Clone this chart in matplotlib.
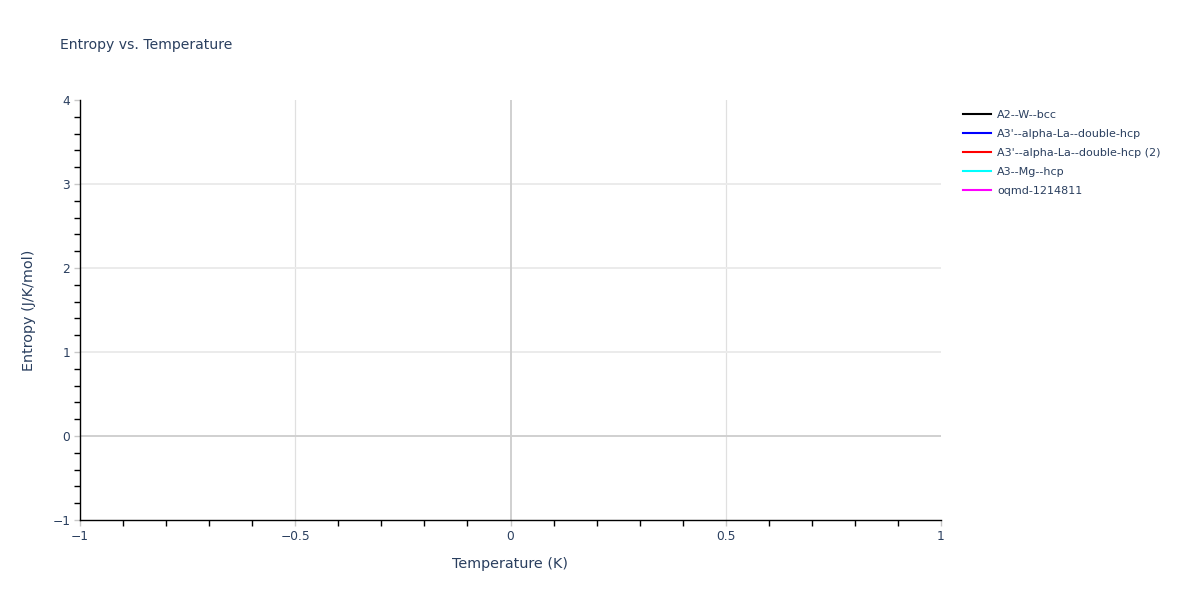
import matplotlib
matplotlib.use("Agg")
import matplotlib.pyplot as plt
from matplotlib.ticker import MultipleLocator

# series shown in the legend (no data points in the chart)
series_names = ["A2--W--bcc", "A3'--alpha-La--double-hcp", "A3'--alpha-La--double-hcp (2)",
                "A3--Mg--hcp", "oqmd-1214811"]
series_colors = ["black", "blue", "red", "cyan", "magenta"]
temperature = [[] for _ in series_names]
entropy = [[] for _ in series_names]

x_ticks = [-1, -0.5, 0, 0.5, 1]
y_ticks = [-1, 0, 1, 2, 3, 4]

txt = "#2a3f5f"
plt.rcParams["font.family"] = ["DejaVu Sans"]

fig = plt.figure(figsize=(12, 6), dpi=100)
ax = fig.add_axes([80 / 1200, 80 / 600, 861 / 1200, 420 / 600])

for t, s, name, c in zip(temperature, entropy, series_names, series_colors):
    ax.plot(t, s, color=c, lw=1.5, label=name)

ax.set_xlim(-1, 1)
ax.set_ylim(-1, 4)
ax.set_xticks(x_ticks)
ax.set_yticks(y_ticks)
ax.set_xticklabels(["\u22121", "\u22120.5", "0", "0.5", "1"])
ax.set_yticklabels(["\u22121", "0", "1", "2", "3", "4"])
ax.xaxis.set_minor_locator(MultipleLocator(0.1))
ax.yaxis.set_minor_locator(MultipleLocator(0.2))

# grid + zero lines
for v in [-0.5, 0.5]:
    ax.axvline(v, color="#e0e0e0", lw=0.9, zorder=0)
for v in [1, 2, 3]:
    ax.axhline(v, color="#ebebeb", lw=1.4, zorder=0)
ax.axvline(0, color="#d0d0d0", lw=1.4, zorder=0.5)
ax.axhline(0, color="#d0d0d0", lw=1.4, zorder=0.5)

for side in ["top", "right"]:
    ax.spines[side].set_visible(False)
for side in ["left", "bottom"]:
    ax.spines[side].set_color("black")
    ax.spines[side].set_linewidth(1)

ax.tick_params(which="major", length=4, width=1, color="#c8c8c8", labelsize=8.8,
               labelcolor=txt, pad=3)
ax.tick_params(which="minor", length=4, width=1, color="black")

ax.set_xlabel("Temperature (K)", fontsize=10.4, color=txt, labelpad=10)
ax.set_ylabel("Entropy (J/K/mol)", fontsize=10.4, color=txt, labelpad=12)
fig.text(60 / 1200, 1 - 45 / 600, "Entropy vs. Temperature", fontsize=10.1, color=txt,
         va="center", ha="left")

ax.legend(loc="upper left", bbox_to_anchor=(963 / 1200, 1 - 110 / 600),
          bbox_transform=fig.transFigure, frameon=False, fontsize=8.0,
          handlelength=2.55, handletextpad=0.5, labelspacing=0.8,
          borderpad=0, borderaxespad=0, labelcolor=txt)

fig.savefig("out.png", dpi=100, facecolor="white")
